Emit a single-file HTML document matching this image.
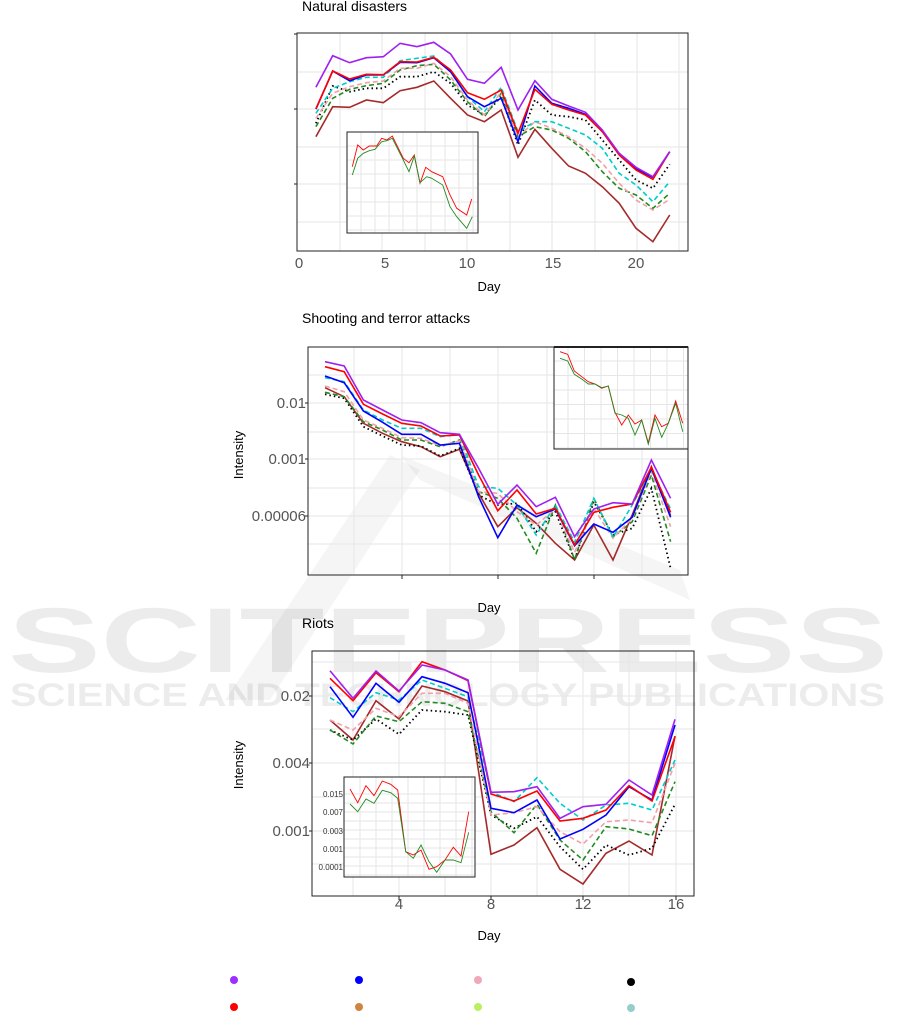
<!DOCTYPE html>
<html><head><meta charset="utf-8"><style>
body{margin:0;background:#fff;width:901px;height:1013px;overflow:hidden}
svg{display:block;font-family:"Liberation Sans",sans-serif}
</style></head><body>
<svg id="s" width="901" height="1013" viewBox="0 0 901 1013" xmlns="http://www.w3.org/2000/svg">
<g fill="#000" opacity="0.07" font-weight="bold">
<text x="8" y="672" font-size="92" textLength="880" lengthAdjust="spacingAndGlyphs">SCITEPRESS</text>
<text x="10" y="706" font-size="32" textLength="875" lengthAdjust="spacingAndGlyphs">SCIENCE AND TECHNOLOGY PUBLICATIONS</text>
</g>
<polygon points="225,700 390,455 420,470 270,700" fill="#000" opacity="0.04"/>
<polygon points="400,455 680,570 690,600 420,480" fill="#000" opacity="0.04"/>
<g id="g"></g>
<text x="302" y="11" font-size="14">Natural disasters</text>
<g font-size="15" fill="#555" text-anchor="middle">
<text x="299" y="268">0</text><text x="385" y="268">5</text><text x="467" y="268">10</text><text x="553" y="268">15</text><text x="636" y="268">20</text>
</g>
<text x="489" y="291" font-size="13" text-anchor="middle">Day</text>
<text x="302" y="323" font-size="14">Shooting and terror attacks</text>
<g font-size="15" fill="#555" text-anchor="end">
<text x="306" y="408">0.01</text><text x="306" y="464">0.001</text><text x="306" y="521">0.00006</text>
</g>
<text x="243" y="455" font-size="13" text-anchor="middle" transform="rotate(-90 243 455)">Intensity</text>
<text x="489" y="612" font-size="13" text-anchor="middle">Day</text>
<text x="302" y="628" font-size="14">Riots</text>
<g font-size="15" fill="#555" text-anchor="end">
<text x="310" y="701">0.02</text><text x="310" y="768">0.004</text><text x="310" y="836">0.001</text>
</g>
<g font-size="15" fill="#555" text-anchor="middle">
<text x="399" y="909">4</text><text x="491" y="909">8</text><text x="583" y="909">12</text><text x="676" y="909">16</text>
</g>
<text x="243" y="765" font-size="13" text-anchor="middle" transform="rotate(-90 243 765)">Intensity</text>
<text x="489" y="940" font-size="13" text-anchor="middle">Day</text>
<g font-size="8" fill="#333" text-anchor="end">
<text x="343" y="797">0.015</text><text x="343" y="815">0.007</text><text x="343" y="834">0.003</text><text x="343" y="852">0.001</text><text x="343" y="870">0.0001</text>
</g>
<g>
<circle cx="234" cy="980" r="4" fill="#9b30ff"/><circle cx="359" cy="980" r="4" fill="#0000ff"/><circle cx="478" cy="980" r="4" fill="#f0a8b8"/><circle cx="631" cy="982" r="4" fill="#000"/>
<circle cx="234" cy="1007" r="4" fill="#ff0000"/><circle cx="359" cy="1007" r="4" fill="#cd853f"/><circle cx="478" cy="1007" r="4" fill="#b8f060"/><circle cx="631" cy="1008" r="4" fill="#96cdcd"/>
</g>
</svg>
<script>
var g=document.getElementById('g'),o='';
function L(x1,y1,x2,y2,c,w){o+='<line x1="'+x1+'" y1="'+y1+'" x2="'+x2+'" y2="'+y2+'" stroke="'+c+'" stroke-width="'+(w||1)+'"/>';}
function R(x,y,w,h,sw){o+='<rect x="'+x+'" y="'+y+'" width="'+w+'" height="'+h+'" fill="'+(sw?'#fff':'none')+'" stroke="#222" stroke-width="1"/>';}
function P(xs,ys,c,st,w){var p=xs.map(function(x,i){return x.toFixed(1)+','+ys[i].toFixed(1)}).join(' ');
 var d=st=='dash'?' stroke-dasharray="5,3"':st=='dot'?' stroke-dasharray="1.5,3"':'';
 o+='<polyline points="'+p+'" fill="none" stroke="'+c+'" stroke-width="'+(w||1.6)+'"'+d+'/>';}
var cols={pu:'#a020f0',r:'#ff0000',b:'#0000ff',c:'#00cdcd',pk:'#f0a0a8',gr:'#228b22',k:'#000',br:'#a52a2a'};
var sty={pu:'',r:'',b:'',c:'dash',pk:'dash',gr:'dash',k:'dot',br:''};
var order=['br','k','gr','pk','c','b','r','pu'];
function draw(xs,D,ox,oy,sc){order.forEach(function(k){P(xs,D[k].map(function(v){return v/sc+oy}),cols[k],sty[k],k=='k'?1.8:1.6);});}
[340,382,425,467,510,552,595,637,679].forEach(function(x){L(x,33,x,251,'#e6e6e6')});
[72,109,147,184,222].forEach(function(y){L(297,y,688,y,'#e6e6e6')});
R(297,33,391,218);
[34,109,184].forEach(function(y){L(294,y,297,y,'#222')});
var x1=[];for(var i=1;i<=22;i++)x1.push(299+16.85*i);
draw(x1,{
pu:[262,167,188,173,170,130,140,127,162,238,250,202,330,242,298,318,337,390,460,502,530,455],
r:[327,213,237,223,224,185,186,172,210,278,298,270,400,268,313,330,345,395,465,510,538,455],
b:[327,213,242,225,225,187,188,173,215,290,320,295,425,258,310,325,343,392,462,507,532,455],
c:[340,265,245,232,232,182,175,168,215,290,335,262,395,365,365,385,405,445,520,555,605,545],
pk:[355,280,260,248,243,205,205,190,230,300,345,275,410,365,385,410,445,490,550,600,630,598],
gr:[380,295,268,257,250,210,197,193,240,305,350,280,410,380,390,415,455,515,565,585,625,580],
k:[370,258,275,265,265,230,230,215,250,315,345,290,435,300,345,350,360,420,480,540,565,493],
br:[410,320,322,300,308,272,262,243,295,345,365,330,472,388,445,498,520,560,610,685,725,645]},0,0,3);
R(347,132,131,101,1);
for(var x=361;x<478;x+=14)L(x,132,x,233,'#e6e6e6');
for(var y=146;y<233;y+=14)L(347,y,478,y,'#e6e6e6');
R(347,132,131,101);
function Z(a,ox){return a.map(function(v){return v/3+ox})}
P(Z([217,233,250,268,290,305,320,337,370,387,403,420,437,455,488,510,530,560,575],280),Z([500,435,450,438,438,415,420,408,475,488,465,550,502,515,530,585,625,645,597],0),'#ff0000','',0.9);
P(Z([217,233,250,268,285,305,320,337,370,387,403,420,440,455,488,510,530,560,577],280),Z([525,475,460,452,448,425,422,415,480,515,468,548,530,535,555,620,650,685,650],0),'#228b22','',0.9);
[354,402,450,498,547,594,642].forEach(function(x){L(x,347,x,575,'#e6e6e6')});
[375,403,432,459,488,516,544].forEach(function(y){L(308,y,688,y,'#e6e6e6')});
R(308,347,380,228);
[403,459,516].forEach(function(y){L(305,y,308,y,'#222')});
[402,498,594].forEach(function(x){L(x,575,x,579,'#222')});
var x2=[];for(var i=0;i<19;i++)x2.push(325+19.2*i);
draw(x2,{
pu:[170,183,285,315,345,353,383,388,490,598,540,605,577,695,612,593,597,465,580],
r:[185,200,298,327,355,363,393,390,510,617,555,627,610,720,622,607,597,487,622],
b:[213,233,318,352,388,388,420,415,575,698,600,635,612,722,657,682,637,490,637],
c:[218,230,315,345,370,370,395,388,545,550,600,690,600,712,580,697,600,495,612],
pk:[243,260,345,370,398,400,422,408,560,565,620,660,612,742,610,700,640,500,665],
gr:[262,275,350,375,405,405,425,405,560,580,640,745,600,765,580,695,650,510,710],
k:[268,280,365,393,420,423,453,430,570,600,595,680,620,765,590,690,670,550,790],
br:[248,275,355,385,410,425,455,433,565,665,608,655,715,765,660,765,630,485,632]},0,305,3);
R(554,347,134,102,1);
for(var x=568;x<688;x+=16.5)L(x,347,x,449,'#e6e6e6');
for(var y=361;y<449;y+=14.5)L(554,y,688,y,'#e6e6e6');
L(554,347,688,347,'#222',2);R(554,347,134,102);
var xi2=[1020,1043,1063,1085,1105,1125,1145,1165,1185,1205,1225,1245,1265,1285,1305,1325,1345,1367,1388];
P(Z(xi2,220),Z([140,148,198,215,230,237,250,243,322,360,330,357,345,413,330,365,355,288,355],305),'#ff0000','',0.9);
P(Z(xi2,220),Z([160,168,208,222,237,237,248,243,325,330,340,390,345,418,340,397,355,295,380],305),'#228b22','',0.9);
[353,399,445,491,537,583,629,676].forEach(function(x){L(x,651,x,896,'#e6e6e6')});
[662,696,729,763,797,831,864].forEach(function(y){L(312,y,694,y,'#e6e6e6')});
R(312,651,382,245);
[696,763,831].forEach(function(y){L(309,y,312,y,'#222')});
[399,491,583,676].forEach(function(x){L(x,896,x,900,'#222')});
var x3=[];for(var i=1;i<=16;i++)x3.push(307+23*i);
draw(x3,{
pu:[92,175,93,153,75,90,120,457,455,440,535,500,493,420,465,238],
r:[115,182,98,155,65,90,122,462,483,453,543,535,510,437,483,290],
b:[140,232,130,187,110,130,158,505,518,480,597,568,525,440,480,255],
c:[173,215,158,180,120,145,170,455,485,413,490,540,495,490,510,360],
pk:[240,270,205,230,160,160,190,525,518,500,575,612,545,540,548,370],
gr:[270,312,228,245,185,190,215,515,578,493,600,660,560,567,587,425],
k:[270,300,237,283,210,215,225,525,565,530,620,688,615,645,625,493],
br:[240,300,182,237,138,155,183,643,615,563,688,732,640,603,645,288]},0,640,3);
R(344,777,131,100,1);
for(var x=360;x<475;x+=16)L(x,777,x,877,'#e6e6e6');
for(var y=794;y<877;y+=9)L(344,y,475,y,'#e6e6e6');
R(344,777,131,100);
var xi3=[390,413,438,462,487,512,533,557,580,603,627,650,675,700,723,746];
P(Z(xi3,220),Z([447,488,437,467,423,433,450,635,645,630,688,680,660,622,648,515],640),'#ff0000','',0.9);
P(Z(xi3,220),Z([492,515,477,490,451,458,475,635,655,615,665,697,660,660,668,577],640),'#228b22','',0.9);
g.innerHTML=o;
</script>
</body></html>
